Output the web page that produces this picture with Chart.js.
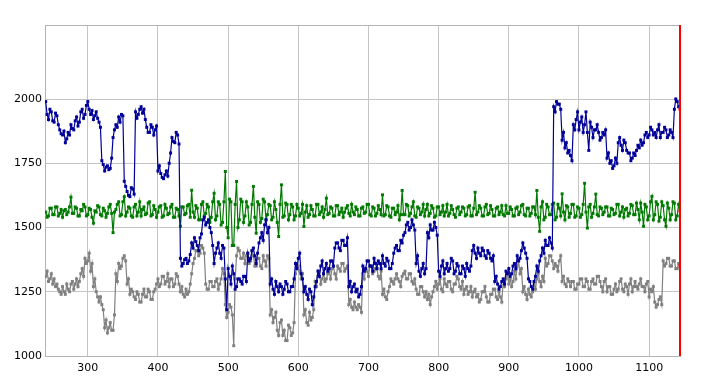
<!DOCTYPE html>
<html>
<head>
<meta charset="utf-8">
<script src="https://cdn.jsdelivr.net/npm/chart.js@4"></script>
<style>
html,body{margin:0;padding:0;background:#fff;}
#wrap{width:704px;height:381px;position:relative;}
</style>
</head>
<body>
<div id="wrap"><canvas id="c" width="704" height="381"></canvas></div>
<script>
// x positions: sampled every 2 units from 240 to 1144
const X_START = 240;
const X_STEP = 2;
const xTickLabels = [300, 400, 500, 600, 700, 800, 900, 1000, 1100];
const yTickLabels = [1000, 1250, 1500, 1750, 2000];

const blueSeries = [
 1990,1940,1920,1960,1950,1915,1910,1945,1935,1900,1880,1865,1860,1875,1830,1845,1870,1860,1900,1885,
 1880,1915,1930,1895,1910,1950,1960,1925,1940,1975,1990,1960,1940,1955,1920,1935,1950,1925,1910,1890,
 1760,1745,1720,1735,1740,1725,1730,1770,1850,1880,1900,1890,1930,1910,1940,1935,1680,1660,1640,1625,
 1620,1655,1650,1630,1950,1925,1940,1960,1970,1945,1960,1920,1890,1870,1870,1900,1890,1860,1880,1895,
 1720,1740,1710,1695,1690,1705,1720,1700,1750,1790,1850,1835,1830,1870,1860,1825,1380,1350,1360,1375,
 1380,1360,1370,1395,1440,1420,1460,1445,1430,1410,1460,1475,1530,1540,1510,1520,1530,1500,1480,1430,
 1360,1400,1420,1440,1400,1380,1430,1420,1300,1180,1340,1310,1280,1350,1320,1260,1270,1300,1300,1290,
 1280,1310,1310,1290,1400,1370,1380,1410,1420,1390,1360,1400,1440,1460,1480,1450,1510,1530,1480,1500,
 1280,1300,1260,1240,1290,1270,1250,1280,1270,1240,1260,1290,1280,1250,1250,1270,1270,1300,1360,1340,
 1380,1400,1320,1300,1250,1270,1240,1220,1260,1250,1200,1230,1270,1290,1330,1310,1350,1370,1320,1340,
 1360,1330,1340,1370,1370,1350,1420,1440,1440,1420,1410,1450,1450,1430,1430,1460,1270,1290,1250,1270,
 1280,1250,1260,1230,1240,1270,1350,1330,1340,1370,1370,1350,1350,1330,1380,1360,1340,1370,1360,1340,
 1390,1360,1350,1380,1370,1340,1340,1360,1400,1420,1430,1410,1410,1450,1440,1470,1480,1510,1520,1490,
 1500,1530,1510,1490,1360,1390,1330,1310,1340,1360,1320,1340,1480,1460,1510,1490,1490,1520,1500,1470,
 1330,1310,1350,1370,1320,1340,1360,1330,1340,1380,1370,1320,1330,1360,1350,1320,1320,1350,1340,1310,
 1360,1340,1330,1350,1410,1430,1400,1380,1420,1400,1390,1420,1410,1390,1380,1410,1400,1380,1370,1390,
 1290,1310,1280,1260,1270,1290,1300,1280,1330,1320,1340,1310,1320,1350,1360,1340,1390,1370,1380,1410,
 1440,1420,1400,1380,1300,1290,1270,1260,1290,1310,1350,1330,1370,1390,1420,1400,1450,1430,1430,1460,
 1440,1420,1970,1950,1990,1980,1980,1960,1840,1870,1810,1830,1790,1800,1780,1760,1900,1880,1920,1950,
 1880,1910,1930,1870,1900,1950,1870,1800,1910,1890,1850,1880,1880,1900,1870,1840,1850,1870,1860,1880,
 1770,1790,1750,1760,1730,1740,1770,1750,1830,1850,1820,1800,1840,1830,1800,1790,1790,1760,1770,1790,
 1780,1800,1820,1810,1840,1820,1830,1860,1870,1850,1860,1890,1880,1860,1870,1850,1880,1900,1850,1870,
 1870,1890,1880,1850,1860,1880,1870,1850,1960,2000,1990,1970,1960
];

const greenSeries = [
 1560,1540,1545,1575,1575,1550,1550,1580,1580,1545,1555,1570,1540,1565,1570,1550,1560,1580,1618,1555,
 1555,1580,1575,1545,1545,1570,1565,1590,1580,1545,1550,1575,1570,1540,1517,1565,1560,1585,1580,1550,
 1545,1575,1565,1540,1555,1580,1590,1555,1480,1560,1570,1590,1600,1545,1550,1600,1620,1545,1560,1580,
 1575,1545,1540,1580,1590,1545,1560,1600,1545,1570,1580,1550,1555,1595,1600,1545,1550,1585,1570,1540,
 1560,1580,1585,1540,1545,1590,1575,1550,1555,1580,1590,1540,1540,1575,1570,1545,1505,1580,1580,1550,
 1555,1585,1590,1540,1645,1560,1540,1585,1575,1530,1530,1590,1600,1545,1555,1590,1580,1520,1540,1600,
 1633,1530,1545,1600,1590,1510,1520,1600,1718,1500,1460,1610,1600,1430,1430,1590,1679,1500,1530,1610,
 1600,1520,1545,1600,1580,1510,1520,1590,1660,1540,1478,1600,1590,1520,1535,1610,1600,1530,1550,1590,
 1585,1530,1540,1600,1570,1520,1465,1590,1666,1540,1545,1595,1590,1530,1550,1590,1580,1530,1545,1590,
 1575,1545,1555,1590,1504,1560,1585,1540,1550,1585,1570,1545,1545,1590,1590,1550,1560,1580,1540,1570,
 1614,1550,1555,1580,1575,1545,1545,1585,1585,1550,1560,1575,1540,1560,1575,1585,1555,1545,1590,1560,
 1550,1580,1570,1545,1545,1575,1580,1555,1560,1590,1590,1550,1545,1580,1575,1545,1555,1585,1570,1550,
 1627,1545,1550,1585,1580,1545,1540,1575,1575,1550,1560,1585,1530,1550,1644,1550,1550,1590,1585,1545,
 1555,1580,1600,1545,1540,1580,1575,1550,1560,1590,1545,1570,1590,1545,1555,1585,1575,1540,1545,1580,
 1580,1550,1560,1585,1545,1560,1590,1545,1555,1585,1570,1550,1540,1575,1580,1550,1560,1580,1575,1545,
 1550,1580,1585,1545,1545,1575,1637,1550,1560,1585,1575,1545,1545,1580,1590,1550,1555,1585,1570,1545,
 1545,1575,1580,1550,1560,1585,1550,1545,1585,1555,1555,1580,1570,1545,1545,1575,1580,1550,1560,1585,
 1590,1550,1545,1575,1575,1545,1555,1580,1580,1550,1644,1540,1485,1580,1600,1530,1540,1590,1580,1550,
 1550,1590,1595,1530,1540,1590,1575,1545,1631,1560,1530,1585,1580,1540,1555,1590,1590,1540,1545,1580,
 1575,1540,1550,1590,1672,1560,1498,1580,1590,1540,1555,1580,1630,1550,1545,1580,1575,1550,1560,1580,
 1580,1545,1545,1575,1570,1550,1555,1590,1590,1545,1560,1580,1540,1570,1575,1545,1555,1590,1585,1550,
 1550,1595,1570,1530,1595,1560,1505,1590,1580,1530,1545,1600,1621,1530,1550,1600,1590,1525,1540,1600,
 1585,1530,1505,1595,1575,1530,1550,1600,1595,1530,1545,1590,1565
];

const graySeries = [
 1310,1330,1290,1300,1320,1280,1300,1270,1280,1260,1250,1240,1270,1250,1240,1280,1260,1250,1280,1290,
 1260,1280,1300,1270,1290,1320,1340,1310,1380,1360,1370,1400,1330,1360,1270,1300,1250,1230,1210,1230,
 1200,1180,1110,1140,1090,1110,1130,1100,1100,1160,1320,1290,1360,1340,1350,1380,1390,1370,1280,1300,
 1240,1260,1250,1230,1220,1250,1240,1210,1210,1240,1260,1230,1230,1260,1250,1220,1220,1250,1260,1280,
 1300,1270,1280,1310,1310,1280,1290,1320,1270,1300,1300,1270,1280,1320,1310,1280,1250,1270,1240,1230,
 1260,1240,1250,1280,1320,1360,1380,1410,1410,1390,1400,1430,1420,1400,1280,1260,1260,1290,1290,1270,
 1270,1290,1300,1260,1280,1300,1340,1320,1200,1150,1170,1200,1190,1160,1040,1300,1390,1420,1410,1380,
 1380,1400,1360,1390,1400,1360,1370,1410,1390,1350,1350,1380,1380,1350,1340,1390,1370,1350,1390,1380,
 1160,1180,1130,1150,1170,1100,1080,1130,1140,1080,1100,1060,1060,1120,1110,1080,1090,1130,1320,1350,
 1350,1330,1300,1320,1160,1180,1130,1120,1170,1140,1150,1180,1290,1270,1310,1330,1280,1300,1320,1290,
 1300,1320,1330,1300,1340,1350,1320,1300,1350,1340,1330,1360,1360,1330,1340,1350,1200,1220,1190,1180,
 1210,1190,1180,1200,1190,1170,1320,1300,1340,1330,1310,1350,1350,1320,1330,1340,1340,1310,1300,1330,
 1240,1260,1230,1220,1250,1270,1300,1290,1280,1300,1320,1300,1290,1270,1310,1320,1330,1300,1300,1320,
 1320,1290,1280,1300,1260,1240,1240,1270,1270,1250,1230,1250,1220,1240,1200,1230,1250,1270,1290,1260,
 1280,1300,1260,1250,1300,1280,1270,1290,1290,1260,1250,1280,1280,1310,1300,1270,1260,1290,1240,1260,
 1270,1240,1250,1270,1230,1250,1260,1230,1240,1210,1220,1250,1250,1270,1230,1210,1210,1240,1240,1260,
 1260,1230,1220,1250,1230,1210,1290,1270,1300,1320,1280,1300,1270,1290,1330,1300,1350,1370,1320,1340,
 1250,1270,1240,1220,1260,1240,1230,1250,1280,1260,1300,1320,1290,1270,1310,1290,1380,1350,1360,1390,
 1390,1370,1340,1360,1350,1330,1370,1390,1290,1310,1280,1270,1300,1290,1270,1290,1290,1260,1260,1280,
 1280,1300,1300,1270,1270,1300,1290,1260,1260,1290,1300,1280,1280,1310,1310,1290,1270,1250,1290,1300,
 1250,1270,1270,1240,1240,1260,1280,1250,1260,1290,1300,1260,1250,1280,1270,1240,1280,1300,1250,1270,
 1290,1270,1260,1280,1300,1270,1270,1250,1280,1290,1230,1260,1250,1270,1210,1190,1200,1220,1230,1200,
 1370,1350,1360,1380,1380,1350,1350,1370,1370,1340,1340,1360,1350
];

function toPoints(arr){
  return arr.map((v,i)=>({x: X_START + i*X_STEP, y: v}));
}
function markerColor(base){
  return (ctx)=> (ctx.dataIndex === ctx.dataset.data.length-1) ? '#ff0000' : base;
}
function ds(arr, color){
  return {
    data: toPoints(arr),
    borderColor: color,
    borderWidth: 1.2,
    pointStyle: 'rect',
    pointRadius: 2.1,
    pointBackgroundColor: markerColor(color),
    pointBorderColor: markerColor(color),
    pointBorderWidth: 0,
    tension: 0,
    fill: false
  };
}

const framePlugin = {
  id: 'frame',
  afterDatasetsDraw(chart){
    const {ctx, chartArea, scales} = chart;
    ctx.save();
    ctx.strokeStyle = '#b4b4b4';
    ctx.lineWidth = 1;
    ctx.beginPath();
    ctx.moveTo(chartArea.left, chartArea.top + 0.5);
    ctx.lineTo(chartArea.right, chartArea.top + 0.5);
    ctx.stroke();
    const lastX = X_START + (blueSeries.length-1)*X_STEP;
    const px = Math.round(scales.x.getPixelForValue(lastX));
    ctx.strokeStyle = '#ff0000';
    ctx.lineWidth = 2;
    ctx.beginPath();
    ctx.moveTo(px, chartArea.top);
    ctx.lineTo(px, chartArea.bottom);
    ctx.stroke();
    ctx.restore();
  }
};

new Chart(document.getElementById('c'), {
  type: 'line',
  data: {
    datasets: [
      ds(blueSeries, '#000099'),
      ds(greenSeries, '#007a00'),
      ds(graySeries, '#808080')
    ]
  },
  options: {
    responsive: false,
    animation: false,
    layout: {padding: {top: 25, right: 24, left: 0, bottom: 0}},
    plugins: {legend: {display: false}, tooltip: {enabled: false}},
    scales: {
      x: {
        type: 'linear',
        min: 239,
        max: 1144,
        afterBuildTicks: (s)=>{ s.ticks = xTickLabels.map(v=>({value:v})); },
        afterFit: (s)=>{ s.height = 25; },
        grid: {color: '#c4c4c4', drawTicks: false},
        border: {color: '#b4b4b4'},
        ticks: {padding: 6, color: '#000', font: {family: 'DejaVu Sans', size: 11}, maxRotation: 0, autoSkip: false,
                callback: (v)=> String(v)}
      },
      y: {
        type: 'linear',
        min: 1000,
        max: 2288,
        afterBuildTicks: (s)=>{ s.ticks = yTickLabels.map(v=>({value:v})); },
        afterFit: (s)=>{ s.width = 45; },
        grid: {color: '#c4c4c4', drawTicks: false},
        border: {color: '#b4b4b4'},
        ticks: {padding: 3, color: '#000', font: {family: 'DejaVu Sans', size: 11},
                callback: (v)=> String(v)}
      }
    }
  },
  plugins: [framePlugin]
});
</script>
</body>
</html>
